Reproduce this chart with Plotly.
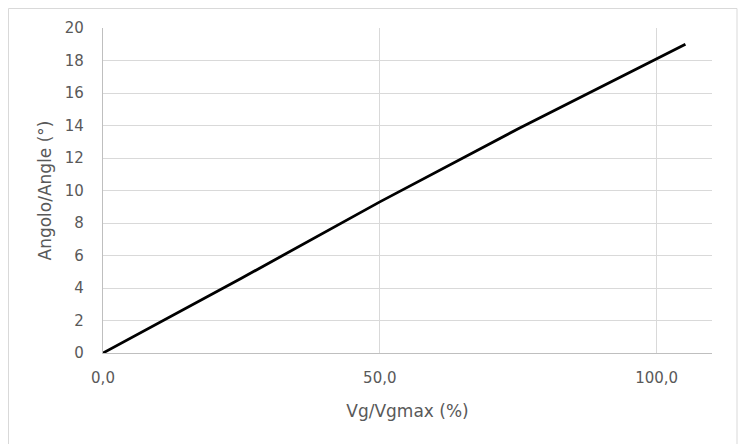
import plotly.graph_objects as go

vg_pct = [0, 25, 50, 75, 105.2]
angle_deg = [0, 4.6, 9.3, 13.8, 19.0]
x_tick_vals = [0, 50, 100]
x_tick_text = ["0,0", "50,0", "100,0"]
y_tick_vals = list(range(0, 21, 2))

FONT = "DejaVu Sans, sans-serif"

fig = go.Figure()
fig.add_trace(go.Scatter(x=vg_pct, y=angle_deg, mode="lines",
                         line=dict(color="black", width=2.8), showlegend=False))

fig.update_layout(
    width=746, height=444,
    margin=dict(l=95, r=42, t=20, b=99),
    paper_bgcolor="white", plot_bgcolor="white",
    font=dict(family=FONT, color="#595959", size=15),
    xaxis=dict(range=[0, 110], tickvals=x_tick_vals, ticktext=x_tick_text,
               showgrid=True, gridcolor="#d9d9d9", gridwidth=1.3,
               showline=True, linecolor="#bfbfbf", linewidth=1.3,
               zeroline=False, ticks="", ticklabelstandoff=11,
               tickfont=dict(size=15, color="#595959"),
               title=dict(text="Vg/Vgmax (%)", font=dict(size=17, color="#595959"), standoff=18)),
    yaxis=dict(range=[0, 20], tickvals=y_tick_vals,
               showgrid=True, gridcolor="#d9d9d9", gridwidth=1.3,
               showline=True, linecolor="#bfbfbf", linewidth=1.3,
               zeroline=False, ticks="", ticklabelstandoff=15,
               tickfont=dict(size=15, color="#595959"),
               title=dict(text="Angolo/Angle (°)",
                          font=dict(size=17, color="#595959"),
                          standoff=8)),
)
fig.add_shape(type="rect", xref="paper", yref="paper",
              x0=-94.5/609, x1=(729-95)/609, y0=-(470-345)/325, y1=(344.5)/325,
              line=dict(color="#d9d9d9", width=1), fillcolor="rgba(0,0,0,0)", layer="below")

fig.write_html("out.html")
